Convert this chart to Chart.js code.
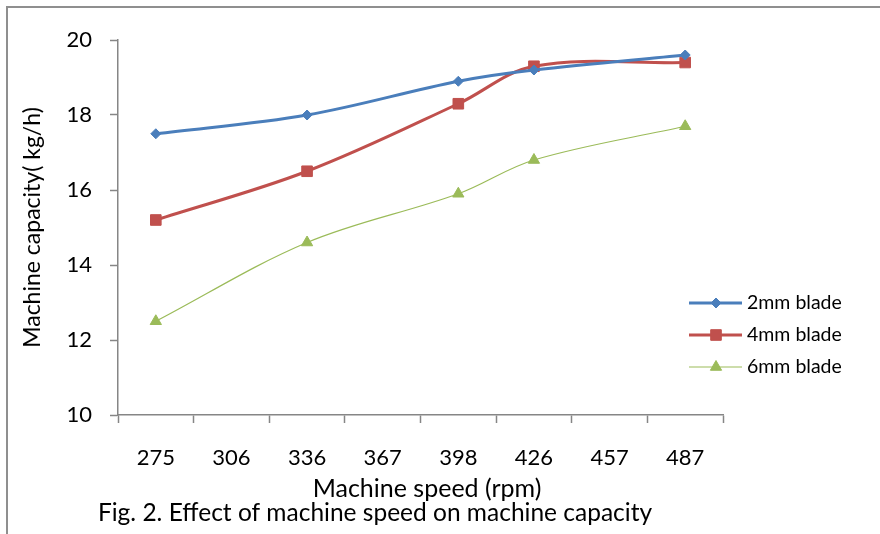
<!DOCTYPE html>
<html>
<head>
<meta charset="utf-8">
<script src="https://cdn.jsdelivr.net/npm/chart.js@4.4.1/dist/chart.umd.min.js"></script>
<style>
  html, body { margin: 0; padding: 0; background: #fff; }
  #wrap { width: 880px; height: 534px; position: relative; }
</style>
</head>
<body>
<div id="wrap"><canvas id="capacityChart" width="880" height="534"></canvas></div>
<script>
// machine speed (rpm) - only some speeds were measured
const speeds = ['275', '306', '336', '367', '398', '426', '457', '487'];
const blade2mm = [17.5, null, 18.0, null, 18.9, 19.2, null, 19.6];
const blade4mm = [15.2, null, 16.5, null, 18.3, 19.3, null, 19.4];
const blade6mm = [12.5, null, 14.6, null, 15.9, 16.8, null, 17.7];
const seriesNames = ['2mm blade', '4mm blade', '6mm blade'];

const FONT = 'Lato, "Open Sans", sans-serif';
const AXIS_GREY = '#868686';

// frame, x title, caption and the line+marker legend
const extras = {
    id: 'extras',
    beforeDraw(chart) {
        const c = chart.ctx;
        c.save();
        c.strokeStyle = '#8f8f8f';
        c.lineWidth = 2;
        c.beginPath();
        c.moveTo(7, 534);
        c.lineTo(7, 7);
        c.lineTo(880, 7);
        c.stroke();
        c.restore();
    },
    afterDraw(chart) {
        const c = chart.ctx;
        c.save();
        c.fillStyle = '#000';
        c.textAlign = 'center';
        c.textBaseline = 'middle';
        c.font = '25px ' + FONT;
        c.fillText('Machine speed (rpm)', 427, 489);
        c.font = '24.5px ' + FONT;
        c.fillText('Fig. 2. Effect of machine speed on machine capacity', 375, 513);

        chart.data.datasets.forEach((ds, i) => {
            const y = 303 + i * 32;
            c.strokeStyle = ds.borderColor;
            c.lineWidth = ds.borderWidth;
            c.beginPath();
            c.moveTo(689, y);
            c.lineTo(742, y);
            c.stroke();
            c.fillStyle = ds.pointBackgroundColor;
            c.lineWidth = 1;
            Chart.helpers.drawPoint(c, {
                pointStyle: ds.pointStyle,
                radius: ds.pointRadius,
                rotation: 0,
                borderWidth: 1
            }, 716, y);
            c.fillStyle = '#000';
            c.font = '19.5px ' + FONT;
            c.textAlign = 'left';
            c.fillText(ds.label, 747, y);
        });
        c.restore();
    }
};

function series(label, data, color, width, style, radius) {
    return {
        label: label,
        data: data,
        borderColor: color,
        backgroundColor: color,
        pointBackgroundColor: color,
        pointBorderColor: color,
        borderWidth: width,
        pointStyle: style,
        pointRadius: radius,
        pointBorderWidth: 1,
        tension: 0.35,
        spanGaps: true,
        fill: false
    };
}

new Chart(document.getElementById('capacityChart'), {
    type: 'line',
    data: {
        labels: speeds,
        datasets: [
            series(seriesNames[0], blade2mm, '#4A7EBB', 3, 'rectRot', 5),
            series(seriesNames[1], blade4mm, '#C0504D', 3, 'rect', 7.5),
            series(seriesNames[2], blade6mm, '#9BBB59', 1.2, 'triangle', 6.5)
        ]
    },
    options: {
        responsive: false,
        animation: false,
        layout: { padding: { top: 40, right: 157, left: 0, bottom: 0 } },
        plugins: {
            legend: { display: false },
            tooltip: { enabled: false }
        },
        scales: {
            x: {
                offset: true,
                grid: { offset: true, drawOnChartArea: false, tickLength: 8, color: AXIS_GREY, tickWidth: 1.5 },
                border: { color: AXIS_GREY, width: 1.5 },
                ticks: { color: '#000', font: { family: FONT, size: 22 }, padding: 22, maxRotation: 0 },
                afterFit(scale) { scale.height = 534 - 415; }
            },
            y: {
                min: 10,
                max: 20,
                ticks: { stepSize: 2, color: '#000', font: { family: FONT, size: 22 }, padding: 18 },
                grid: { drawOnChartArea: false, tickLength: 8, color: AXIS_GREY, tickWidth: 1.5 },
                border: { color: AXIS_GREY, width: 1.5 },
                title: { display: true, text: 'Machine capacity( kg/h)', color: '#000', font: { family: FONT, size: 23 }, padding: { top: 19, bottom: 0 } },
                afterFit(scale) { scale.width = 118; }
            }
        }
    },
    plugins: [extras]
});
</script>
</body>
</html>
